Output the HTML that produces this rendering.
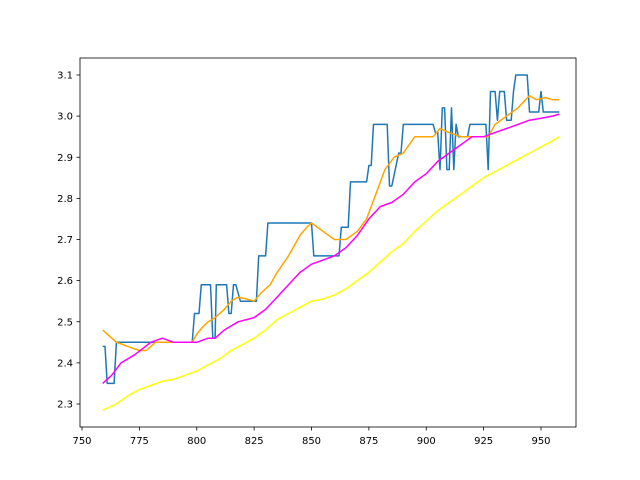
<!DOCTYPE html>
<html><head><meta charset="utf-8"><style>
body{margin:0;background:#fff}
svg{display:block;font-family:"DejaVu Sans","Liberation Sans",sans-serif}
</style></head><body>
<svg id="chart" width="640" height="480">
<rect x="0" y="0" width="640" height="480" fill="#fff"/>
<g id="plot"></g>
<g id="axes"></g>
</svg>
<script>
const xTicks=[750,775,800,825,850,875,900,925,950];
const yTicks=[2.3,2.4,2.5,2.6,2.7,2.8,2.9,3.0,3.1];
const yTickLabels=["2.3","2.4","2.5","2.6","2.7","2.8","2.9","3.0","3.1"];
const blueSeries=[[759,2.44],[760,2.44],[761,2.35],[764,2.35],[765,2.45],[790,2.45],[798,2.45],[799,2.52],[801,2.52],[802,2.59],[806,2.59],[807,2.46],[808,2.46],[808.5,2.59],[813,2.59],[814,2.52],[815,2.52],[816,2.59],[817,2.59],[819,2.55],[826,2.55],[827,2.66],[830,2.66],[831,2.74],[850,2.74],[851,2.66],[862,2.66],[863,2.73],[866,2.73],[867,2.84],[874,2.84],[875,2.88],[876,2.88],[877,2.98],[883,2.98],[884,2.83],[885,2.83],[888,2.91],[889,2.91],[890,2.98],[903,2.98],[904,2.96],[905,2.96],[906,2.87],[907,3.02],[908,3.02],[909,2.87],[910,2.87],[911,3.02],[912,2.87],[913,2.98],[914,2.95],[918,2.95],[919,2.98],[926,2.98],[927,2.87],[928,3.06],[930,3.06],[931,2.99],[932,3.06],[934,3.06],[935,2.99],[937,2.99],[938,3.06],[939,3.1],[944,3.1],[945,3.01],[949,3.01],[950,3.06],[951,3.01],[958,3.01]];
const orangeSeries=[[759,2.48],[761,2.47],[763,2.46],[765,2.45],[770,2.44],[775,2.43],[778,2.43],[782,2.45],[790,2.45],[798,2.45],[800,2.47],[803,2.49],[805,2.5],[808,2.51],[812,2.53],[815,2.55],[818,2.56],[822,2.555],[825,2.55],[828,2.57],[832,2.59],[835,2.62],[840,2.66],[845,2.71],[848,2.73],[850,2.74],[855,2.72],[860,2.7],[865,2.7],[870,2.72],[874,2.75],[878,2.81],[882,2.87],[886,2.9],[890,2.91],[895,2.95],[903,2.95],[906,2.97],[910,2.96],[915,2.95],[920,2.95],[925,2.95],[927,2.95],[930,2.98],[935,3.0],[940,3.02],[945,3.05],[948,3.04],[952,3.045],[955,3.04],[958,3.04]];
const magentaSeries=[[759,2.35],[763,2.37],[767,2.4],[773,2.42],[780,2.45],[785,2.46],[790,2.45],[795,2.45],[800,2.45],[805,2.46],[808,2.46],[812,2.48],[818,2.5],[825,2.51],[830,2.53],[835,2.56],[840,2.59],[845,2.62],[850,2.64],[855,2.65],[860,2.66],[865,2.68],[870,2.71],[875,2.75],[880,2.78],[885,2.79],[890,2.81],[895,2.84],[900,2.86],[905,2.89],[910,2.91],[915,2.93],[920,2.95],[925,2.95],[930,2.96],[935,2.97],[940,2.98],[945,2.99],[950,2.995],[955,3.0],[958,3.005]];
const yellowSeries=[[759,2.285],[765,2.3],[770,2.32],[775,2.335],[780,2.345],[785,2.355],[790,2.36],[795,2.37],[800,2.38],[805,2.395],[810,2.41],[815,2.43],[820,2.445],[825,2.46],[830,2.48],[835,2.505],[840,2.52],[845,2.535],[850,2.55],[855,2.555],[860,2.565],[865,2.58],[870,2.6],[875,2.62],[880,2.645],[885,2.67],[890,2.69],[895,2.72],[900,2.745],[905,2.77],[910,2.79],[915,2.81],[920,2.83],[925,2.85],[930,2.865],[935,2.88],[940,2.895],[945,2.91],[950,2.925],[955,2.94],[958,2.95]];

const L=80,R=576,T=58,B=427;
const xs=v=>82+(v-750)*2.295;
const ys=v=>75+(3.1-v)*411.25;
const NS="http://www.w3.org/2000/svg";
const plot=document.getElementById('plot'),axes=document.getElementById('axes');
function mk(tag,attrs,parent){const e=document.createElementNS(NS,tag);for(const k in attrs)e.setAttribute(k,attrs[k]);parent.appendChild(e);return e;}
function line(data,color,name){
  const p=mk('polyline',{points:data.map(d=>xs(d[0]).toFixed(1)+','+ys(d[1]).toFixed(1)).join(' '),fill:'none',stroke:color,'stroke-width':1.5,'stroke-linejoin':'round'},plot);
  
  
}
line(blueSeries,'#1f77b4','blue-series-line');
line(orangeSeries,'#ffa500','orange-series-line');
line(magentaSeries,'#ff00ff','magenta-series-line');
line(yellowSeries,'#ffff00','yellow-series-line');
const frame=mk('rect',{x:L,y:T,width:R-L,height:B-T,fill:'none',stroke:'#000','stroke-width':0.8},axes);


xTicks.forEach(v=>{
  const x=xs(v);
  const t=mk('line',{x1:x,x2:x,y1:B,y2:B+3.5,stroke:'#000','stroke-width':0.8},axes);
  
  
  const s=mk('text',{x:x,y:B+17,'text-anchor':'middle','font-size':10,fill:'#000'},axes);
  s.textContent=v;
  
  
});
yTicks.forEach((v,i)=>{
  const y=ys(v);
  const t=mk('line',{x1:L-3.5,x2:L,y1:y,y2:y,stroke:'#000','stroke-width':0.8},axes);
  
  
  const s=mk('text',{x:L-7,y:y+3.5,'text-anchor':'end','font-size':10,fill:'#000'},axes);
  s.textContent=yTickLabels[i];
  
  
});
</script>
</body></html>
